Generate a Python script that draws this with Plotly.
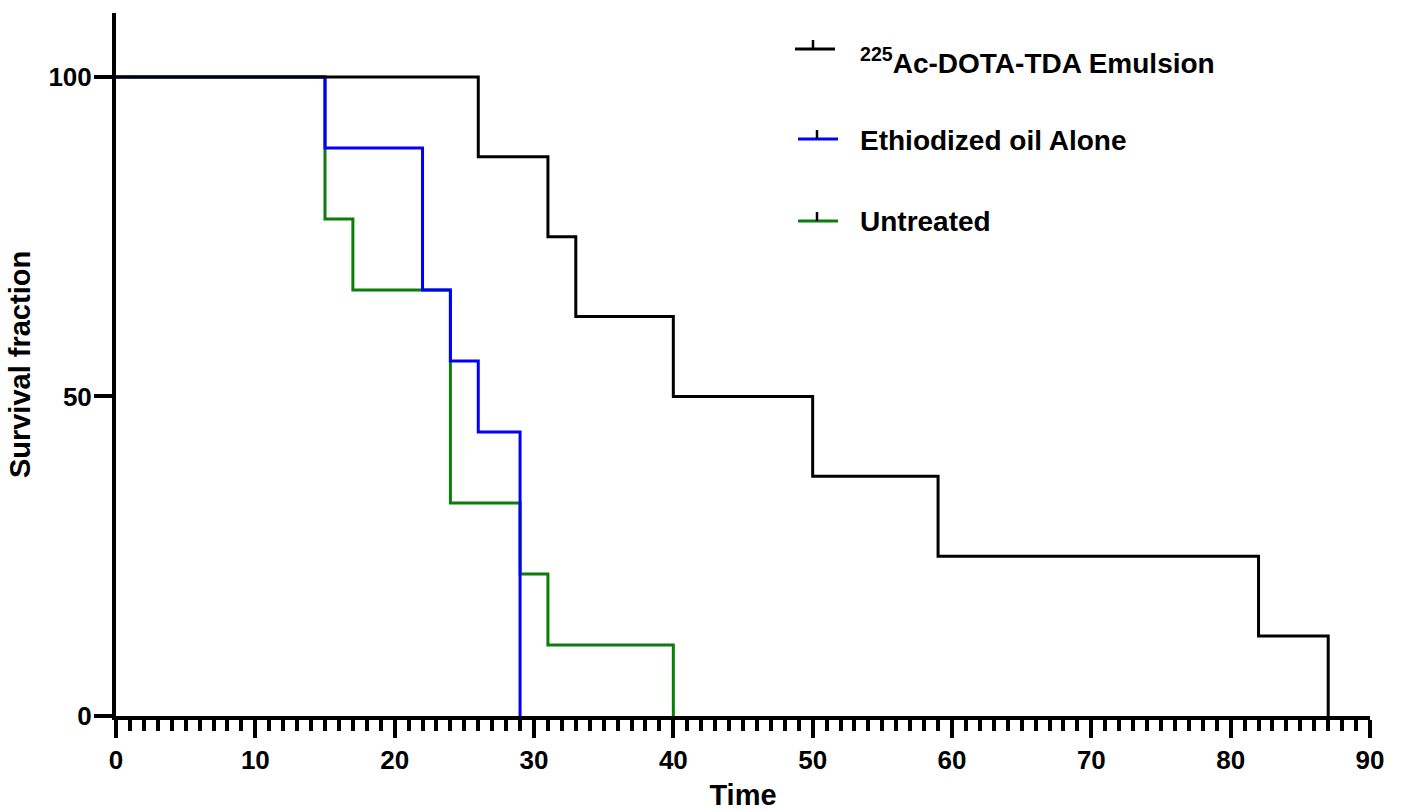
import plotly.graph_objects as go

# ---- data (Kaplan-Meier steps, survival %) ----
ac_time = [0, 26, 31, 33, 40, 50, 59, 82, 87]
ac_surv = [100, 87.5, 75, 62.5, 50, 37.5, 25, 12.5, 0]

oil_time = [0, 15, 22, 24, 26, 29]
oil_surv = [100, 88.89, 66.67, 55.56, 44.44, 0]

unt_time = [0, 15, 17, 24, 29, 31, 40]
unt_surv = [100, 77.78, 66.67, 33.33, 22.22, 11.11, 0]

series_names = ["<sup>225</sup>Ac-DOTA-TDA Emulsion", "Ethiodized oil Alone", "Untreated"]
series_colors = ["#000000", "#0000FF", "#0A7D0A"]

x_ticks = [0, 10, 20, 30, 40, 50, 60, 70, 80, 90]
y_ticks = [0, 50, 100]

W, H = 1403, 811
L, R, T, B = 116, 33, 13, 95
PW, PH = W - L - R, H - T - B

def px(x):
    return (x - L) / PW

def py(y):
    return (H - B - y) / PH

FONT = "Liberation Sans, Arial, sans-serif"

fig = go.Figure()
# draw order: green, blue, black on top
for t, s, c in [(unt_time, unt_surv, series_colors[2]),
                (oil_time, oil_surv, series_colors[1]),
                (ac_time, ac_surv, series_colors[0])]:
    fig.add_trace(go.Scatter(x=t, y=s, mode="lines", line=dict(shape="hv", color=c, width=3),
                             showlegend=False, hoverinfo="skip", cliponaxis=False))

# manual legend
leg_rows = [(49, 795, 813, 61), (139, 798, 817, 140), (221, 798, 817, 222)]
shapes = []
annotations = []
for (ly, lx0, tx, ty), name, col in zip(leg_rows, series_names, series_colors):
    shapes.append(dict(type="line", xref="paper", yref="paper", x0=px(lx0), x1=px(lx0 + 40),
                       y0=py(ly), y1=py(ly), line=dict(color=col, width=3)))
    shapes.append(dict(type="line", xref="paper", yref="paper", x0=px(tx), x1=px(tx),
                       y0=py(ly), y1=py(ly - 9), line=dict(color="black", width=2.5)))
    annotations.append(dict(xref="paper", yref="paper", x=px(858), y=py(ty), xanchor="left",
                            yanchor="middle", text=name, showarrow=False,
                            font=dict(family=FONT, size=28, color="black", weight="bold")))

fig.update_layout(
    width=W, height=H,
    margin=dict(l=L, r=R, t=T, b=B),
    plot_bgcolor="white", paper_bgcolor="white",
    shapes=shapes, annotations=annotations,
    font=dict(family=FONT, color="black"),
    xaxis=dict(range=[0, 90], tickvals=x_ticks, ticktext=[str(v) for v in x_ticks],
               automargin=False,
               showgrid=False, zeroline=False, showline=True, linecolor="black", linewidth=4,
               ticks="outside", ticklen=18, tickwidth=4, tickcolor="black",
               tickfont=dict(family=FONT, size=26, color="black", weight="bold"),
               minor=dict(dtick=1, tick0=0, ticks="outside", ticklen=11, tickwidth=3.5,
                          tickcolor="black", showgrid=False),
               title=dict(text="Time", font=dict(family=FONT, size=29, color="black", weight="bold"),
                          standoff=12)),
    yaxis=dict(range=[0, 110], tickvals=y_ticks, ticktext=[str(v) for v in y_ticks],
               automargin=False, ticklabelstandoff=-3,
               showgrid=False, zeroline=False, showline=True, linecolor="black", linewidth=4,
               ticks="outside", ticklen=18, tickwidth=4, tickcolor="black",
               tickfont=dict(family=FONT, size=26, color="black", weight="bold"),
               title=dict(text="Survival fraction",
                          font=dict(family=FONT, size=29, color="black", weight="bold"),
                          standoff=10)),
)

fig.write_html("out.html")
